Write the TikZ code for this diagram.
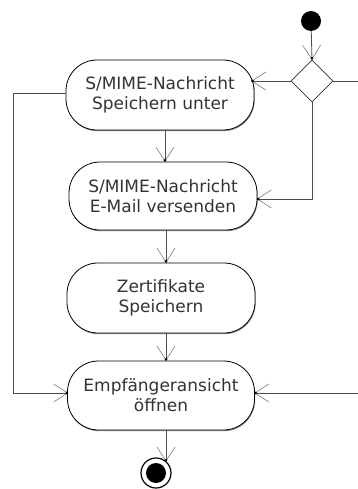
\documentclass[tikz,border=0pt]{standalone}
\usepackage{fontspec}
\setmainfont{DejaVu Sans}
\usetikzlibrary{arrows.meta,shapes.geometric,calc,shadows}
\begin{document}
\begin{tikzpicture}[x=1pt,y=-1pt,
  act/.style={draw=black, fill=white, line width=0.8pt, rounded corners=31pt, minimum width=188pt, minimum height=70pt, inner sep=0pt, align=center, font=\fontsize{17}{20}\selectfont, text=black!80,
    drop shadow={shadow xshift=0.6pt, shadow yshift=-1.2pt, opacity=0.45, fill=black}},
  conn/.style={draw=black!70, line width=0.8pt},
  arr/.style={conn, -{Straight Barb[length=14pt,width=18pt,line width=0.5pt,color=black!60,sep=-2.5pt]Circle[length=2.5pt,color=black]}},
  ]
\useasboundingbox (0,0) rectangle (358,489);
\node[circle, fill=black, minimum size=20pt, inner sep=0pt] (s) at (311,21) {};
\node[diamond, draw=black!80, line width=0.8pt, minimum width=42pt, minimum height=42pt, inner sep=0pt] (d) at (312,81) {};
\node[act] (n1) at (160,95) {S/MIME-Nachricht\\Speichern unter};
\node[act, minimum height=68pt] (n2) at (163,196) {S/MIME-Nachricht\\E-Mail versenden};
\node[act] (n3) at (161,298) {Zertifikate\\Speichern};
\node[act, minimum width=187pt, minimum height=69pt] (n4) at (161,395.5) {Empfängeransicht\\öffnen};
\node[circle, draw=black, line width=1.2pt, fill=white, minimum size=30pt, inner sep=0pt] (e) at (156,473) {};
\fill[black] (e.center) circle (10pt);
\coordinate (r1) at (358,81);
\coordinate (r4) at (358,393);
\coordinate (lc) at (13,393);

\draw[arr] (s) -- (d.north);
\draw[arr] (d.west) -- ($(n1.east)+(-3,-14)$);
\draw[conn] (d.east) -- (r1);
\draw[arr] (d.south) |- ($(n2.east)+(-0.5,3)$);
\draw[arr] ($(n1.south)+(5,0)$) -- ($(n2.north)+(2,0)$);
\draw[arr] ($(n2.south)+(3,0)$) -- ($(n3.north)+(5,0)$);
\draw[arr] ($(n3.south)+(5,0)$) -- ($(n4.north)+(5,0)$);
\draw[arr] ($(n4.south)+(5,0)$) -- ($(e.center)+(10,-11.5)$);
\draw[arr] ($(n1.west)+(0,-2)$) -| (lc) |- ($(n4.west)+(1,-2.5)$);
\draw[arr] (r4) -- ($(n4.east)+(-0.5,-2.5)$);
\end{tikzpicture}
\end{document}
